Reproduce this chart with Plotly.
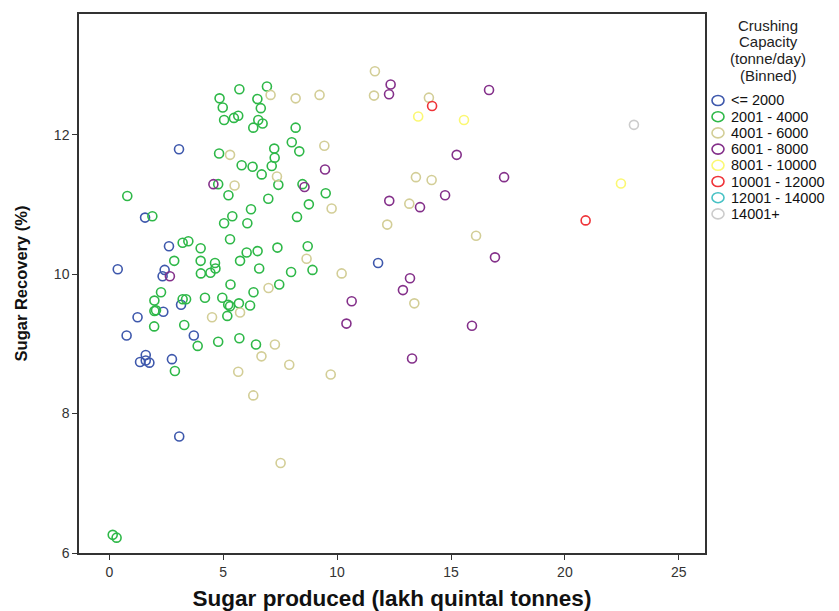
import plotly.graph_objects as go

# ---- data ----
bins = ["<= 2000", "2001 - 4000", "4001 - 6000", "6001 - 8000",
        "8001 - 10000", "10001 - 12000", "12001 - 14000", "14001+"]
colors = ["#3E58AC", "#2EB848", "#D3CE97", "#84308A",
          "#FBF873", "#EF3338", "#48C2C5", "#CCCCCC"]
legend_title_lines = ["Crushing", "Capacity", "(tonne/day)", "(Binned)"]

blue_x = [3.06, 1.57, 2.62, 0.37, 2.43, 2.34, 3.15, 2.37, 1.24, 0.76, 3.71, 1.60, 1.35, 1.60, 1.76, 2.75, 3.07, 11.80]
blue_y = [11.79, 10.81, 10.40, 10.07, 10.06, 9.97, 9.56, 9.46, 9.38, 9.12, 9.12, 8.84, 8.74, 8.76, 8.73, 8.78, 7.67, 10.16]

green_x = [5.71, 6.92, 4.84, 4.98, 5.04, 6.50, 6.65, 5.66, 5.47, 6.54, 6.73, 6.32, 8.18, 8.01, 8.34,
           4.82, 7.24, 7.26, 5.81, 6.29, 7.13, 6.69, 4.78, 7.42, 8.48, 9.50, 0.79, 5.23, 6.98, 8.76,
           1.89, 5.40, 6.22, 5.04, 6.06, 8.24, 5.30, 3.22, 3.47, 4.01, 6.03, 6.51, 7.38, 8.71, 2.85,
           4.01, 4.64, 5.74, 4.66, 4.44, 4.02, 6.58, 7.98, 8.92, 5.32, 7.46, 6.33, 2.27, 1.98, 3.22,
           3.37, 4.20, 4.96, 5.22, 5.30, 5.69, 6.18, 2.05, 1.98, 5.18, 1.97, 3.29, 4.78, 5.71, 3.88,
           6.44, 2.88, 0.15, 0.32]
green_y = [12.65, 12.69, 12.52, 12.39, 12.21, 12.51, 12.38, 12.27, 12.24, 12.21, 12.16, 12.10, 12.10, 11.89, 11.76,
           11.73, 11.80, 11.67, 11.56, 11.54, 11.55, 11.43, 11.29, 11.28, 11.29, 11.16, 11.12, 11.13, 11.08, 11.00,
           10.83, 10.83, 10.93, 10.73, 10.73, 10.82, 10.50, 10.45, 10.47, 10.37, 10.31, 10.33, 10.38, 10.40, 10.19,
           10.19, 10.16, 10.19, 10.08, 10.02, 10.01, 10.08, 10.03, 10.06, 9.85, 9.85, 9.74, 9.74, 9.62, 9.64,
           9.64, 9.66, 9.66, 9.56, 9.54, 9.58, 9.55, 9.48, 9.47, 9.40, 9.25, 9.27, 9.03, 9.08, 8.97,
           8.99, 8.61, 6.26, 6.22]

tan_x = [7.08, 8.18, 9.23, 11.66, 11.62, 14.03, 5.30, 9.44, 7.36, 5.50, 13.46, 14.15, 13.17, 9.76, 12.20,
         16.10, 8.66, 10.20, 6.99, 13.39, 5.74, 4.51, 7.27, 6.68, 7.90, 9.72, 5.66, 6.32, 7.52]
tan_y = [12.57, 12.52, 12.57, 12.91, 12.56, 12.53, 11.71, 11.84, 11.40, 11.27, 11.39, 11.35, 11.01, 10.94, 10.71,
         10.55, 10.22, 10.01, 9.80, 9.58, 9.45, 9.38, 8.99, 8.82, 8.70, 8.56, 8.60, 8.26, 7.29]

purple_x = [12.35, 12.28, 16.67, 15.25, 17.33, 9.47, 4.57, 8.57, 14.74, 12.29, 13.64, 16.93, 13.20, 2.66,
            12.89, 10.64, 10.41, 15.92, 13.29]
purple_y = [12.72, 12.58, 12.64, 11.71, 11.39, 11.50, 11.29, 11.25, 11.13, 11.05, 10.96, 10.24, 9.94, 9.97,
            9.77, 9.61, 9.29, 9.26, 8.79]

yellow_x = [13.56, 15.57, 22.46]
yellow_y = [12.26, 12.21, 11.30]

red_x = [14.17, 20.91]
red_y = [12.41, 10.77]

cyan_x = []
cyan_y = []

gray_x = [23.03]
gray_y = [12.14]

x_ticks = [0, 5, 10, 15, 20, 25]
y_ticks = [6, 8, 10, 12]

series_x = [blue_x, green_x, tan_x, purple_x, yellow_x, red_x, cyan_x, gray_x]
series_y = [blue_y, green_y, tan_y, purple_y, yellow_y, red_y, cyan_y, gray_y]

# ---- layout geometry (pixels) ----
W, H = 839, 611
PL, PR, PT, PB = 79, 705, 14, 553


def px_to_paper_x(px):
    return (px - PL) / (PR - PL)


def px_to_paper_y(py):
    return (PB - py) / (PB - PT)


fig = go.Figure()
for name, col, xs, ys in zip(bins, colors, series_x, series_y):
    fig.add_trace(go.Scatter(
        x=xs if xs else [None], y=ys if ys else [None],
        mode="markers", name=name, showlegend=False,
        marker=dict(symbol="circle-open", size=9, color=col,
                    line=dict(width=1.6, color=col)),
        hoverinfo="x+y+name",
    ))

FONT = "Arial, Liberation Sans, sans-serif"
axis_font = dict(family=FONT, size=14, color="#333333")

# ---- custom legend (tight SPSS-like spacing) ----
shapes = []
annotations = []
title_y0, title_step = 25, 16.8
for i, line in enumerate(legend_title_lines):
    annotations.append(dict(
        text=line, xref="paper", yref="paper",
        x=px_to_paper_x(768), y=px_to_paper_y(title_y0 + i * title_step),
        xanchor="center", yanchor="middle", showarrow=False,
        font=dict(family=FONT, size=15, color="#222222")))

item_y0, item_step = 100.5, 16.2
for i, (name, col) in enumerate(zip(bins, colors)):
    cy = item_y0 + i * item_step
    shapes.append(dict(
        type="circle", xref="paper", yref="paper",
        xsizemode="pixel", ysizemode="pixel",
        xanchor=px_to_paper_x(718), yanchor=px_to_paper_y(cy),
        x0=-6, x1=6, y0=-5, y1=5,
        line=dict(color=col, width=1.6), fillcolor="rgba(0,0,0,0)"))
    annotations.append(dict(
        text=name, xref="paper", yref="paper",
        x=px_to_paper_x(729), y=px_to_paper_y(cy),
        xanchor="left", yanchor="middle", showarrow=False,
        font=dict(family=FONT, size=14.5, color="#111111")))

fig.update_layout(
    width=W, height=H,
    margin=dict(l=PL, r=W - PR, t=PT, b=H - PB, autoexpand=False),
    paper_bgcolor="white", plot_bgcolor="white",
    font=dict(family=FONT, color="#222222"),
    showlegend=False,
    xaxis=dict(range=[-1.33, 26.15], tickvals=x_ticks, ticks="outside", ticklen=5,
               tickcolor="#333333", showgrid=False, zeroline=False,
               showline=True, linecolor="#333333", linewidth=1.5, mirror=True,
               tickfont=axis_font,
               title=dict(text="<b>Sugar produced (lakh quintal tonnes)</b>",
                          font=dict(size=22.5, family=FONT, color="#111111"),
                          standoff=13)),
    yaxis=dict(range=[6, 13.73], tickvals=y_ticks, ticks="outside", ticklen=5,
               tickcolor="#333333", showgrid=False, zeroline=False,
               showline=True, linecolor="#333333", linewidth=1.5, mirror=True,
               tickfont=axis_font,
               title=dict(text="<b>Sugar Recovery (%)</b>",
                          font=dict(size=16.5, family=FONT, color="#111111"),
                          standoff=22)),
    shapes=shapes,
    annotations=annotations,
)

fig.write_html("out.html")
